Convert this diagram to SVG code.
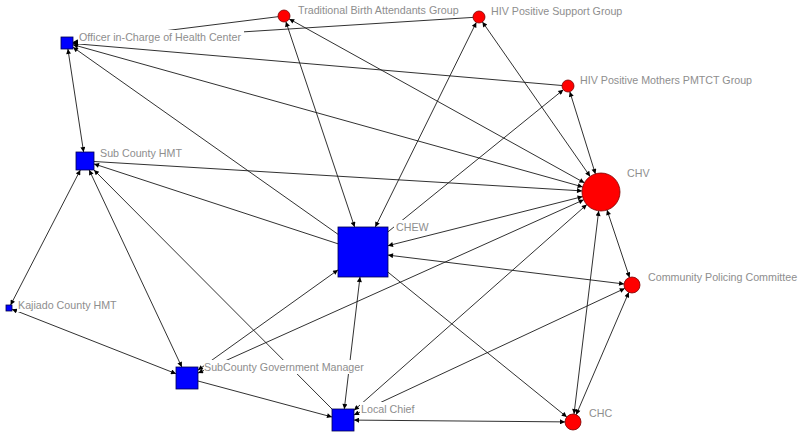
<svg xmlns="http://www.w3.org/2000/svg" width="800" height="436" viewBox="0 0 800 436">
<style>
.e{stroke:#1a1a1a;stroke-width:0.9;fill:none}
.s{fill:#0000ff;stroke:#00004d;stroke-width:0.8}
.c{fill:#ff0000;stroke:#7a0000;stroke-width:0.8}
.lb{fill:#ffffff}
.t{font-family:"Liberation Sans",Arial,sans-serif;font-size:10.7px;fill:#8e8e8e}
</style>
<defs>
<marker id="a" viewBox="0 0 10 10" refX="10" refY="5" markerUnits="userSpaceOnUse" markerWidth="7" markerHeight="5" orient="auto-start-reverse">
<path d="M0,0 L10,5 L0,10 z" fill="#000"/>
</marker>
</defs>
<rect width="800" height="436" fill="#ffffff"/>
<g id="connectors">
<line class="e" x1="67.9" y1="49" x2="83.6" y2="152" marker-start="url(#a)" marker-end="url(#a)"/>
<line class="e" x1="73" y1="42.3" x2="278" y2="16.7" marker-start="url(#a)"/>
<line class="e" x1="73" y1="42.6" x2="473" y2="17.4" marker-start="url(#a)"/>
<line class="e" x1="73" y1="43.5" x2="562" y2="85.5" marker-start="url(#a)"/>
<line class="e" x1="73" y1="44.7" x2="582.7" y2="186.9" marker-start="url(#a)" marker-end="url(#a)"/>
<line class="e" x1="73" y1="47.2" x2="338" y2="234.3" marker-start="url(#a)"/>
<line class="e" x1="285.9" y1="21.7" x2="354.6" y2="227" marker-start="url(#a)" marker-end="url(#a)"/>
<line class="e" x1="289.2" y1="18.9" x2="584.4" y2="182.8" marker-start="url(#a)" marker-end="url(#a)"/>
<line class="e" x1="476.3" y1="22.4" x2="375.3" y2="227" marker-start="url(#a)" marker-end="url(#a)"/>
<line class="e" x1="482.4" y1="21.9" x2="590.1" y2="176.4" marker-start="url(#a)" marker-end="url(#a)"/>
<line class="e" x1="569.8" y1="91.7" x2="595.4" y2="173.9" marker-start="url(#a)" marker-end="url(#a)"/>
<line class="e" x1="388" y1="231.8" x2="563.3" y2="89.8" marker-end="url(#a)"/>
<line class="e" x1="94" y1="161.5" x2="582" y2="190.9" marker-end="url(#a)"/>
<line class="e" x1="94" y1="163.9" x2="338" y2="243.8" marker-start="url(#a)"/>
<line class="e" x1="80.3" y1="170" x2="10.6" y2="305" marker-start="url(#a)" marker-end="url(#a)"/>
<line class="e" x1="89.2" y1="170" x2="181.8" y2="367" marker-start="url(#a)" marker-end="url(#a)"/>
<line class="e" x1="94" y1="170" x2="332" y2="409" marker-start="url(#a)"/>
<line class="e" x1="12" y1="309.2" x2="176" y2="373.7" marker-start="url(#a)" marker-end="url(#a)"/>
<line class="e" x1="198" y1="370.1" x2="338" y2="269.9" marker-start="url(#a)" marker-end="url(#a)"/>
<line class="e" x1="198" y1="373.1" x2="583.7" y2="199.8" marker-start="url(#a)" marker-end="url(#a)"/>
<line class="e" x1="198" y1="381" x2="332" y2="417" marker-end="url(#a)"/>
<line class="e" x1="344.3" y1="409" x2="360" y2="277" marker-start="url(#a)" marker-end="url(#a)"/>
<line class="e" x1="354" y1="410.3" x2="586.8" y2="204.6" marker-start="url(#a)" marker-end="url(#a)"/>
<line class="e" x1="354" y1="414.9" x2="624.8" y2="288.4" marker-start="url(#a)" marker-end="url(#a)"/>
<line class="e" x1="354" y1="420.1" x2="565" y2="421.9" marker-start="url(#a)" marker-end="url(#a)"/>
<line class="e" x1="388" y1="245.7" x2="582.6" y2="196.6" marker-start="url(#a)" marker-end="url(#a)"/>
<line class="e" x1="388" y1="255.1" x2="624.1" y2="284" marker-start="url(#a)" marker-end="url(#a)"/>
<line class="e" x1="388" y1="272.2" x2="566.8" y2="417" marker-end="url(#a)"/>
<line class="e" x1="607" y1="210" x2="629.5" y2="277.4" marker-start="url(#a)" marker-end="url(#a)"/>
<line class="e" x1="598.7" y1="210.9" x2="574" y2="414.1" marker-start="url(#a)" marker-end="url(#a)"/>
<line class="e" x1="628.8" y1="292.3" x2="576.2" y2="414.7" marker-start="url(#a)" marker-end="url(#a)"/>
</g>
<g id="node-oic"><rect class="s" x="61" y="37" width="12" height="12"/><rect class="lb" x="78" y="30" width="166" height="14"/><text class="t" x="79" y="41">Officer in-Charge of Health Center</text></g>
<g id="node-schmt"><rect class="s" x="76" y="152" width="18" height="18"/><rect class="lb" x="99" y="146" width="85" height="14"/><text class="t" x="100" y="157">Sub County HMT</text></g>
<g id="node-kchmt"><rect class="s" x="6" y="305" width="6" height="6"/><rect class="lb" x="17" y="298" width="100" height="14"/><text class="t" x="18" y="309">Kajiado County HMT</text></g>
<g id="node-scgm"><rect class="s" x="176" y="367" width="22" height="22"/><rect class="lb" x="204" y="360" width="163" height="14"/><text class="t" x="204" y="371">SubCounty Government Manager</text></g>
<g id="node-lc"><rect class="s" x="332" y="409" width="22" height="22"/><rect class="lb" x="360" y="402" width="54" height="14"/><text class="t" x="361" y="413">Local Chief</text></g>
<g id="node-chew"><rect class="s" x="338" y="227" width="50" height="50"/><rect class="lb" x="394" y="220" width="36" height="14"/><text class="t" x="396" y="231">CHEW</text></g>
<g id="node-tba"><circle class="c" cx="284" cy="16" r="6"/><rect class="lb" x="297" y="3" width="164" height="14"/><text class="t" x="298" y="14">Traditional Birth Attendants Group</text></g>
<g id="node-hivsg"><circle class="c" cx="479" cy="17" r="6"/><rect class="lb" x="490" y="4" width="133" height="14"/><text class="t" x="491" y="15">HIV Positive Support Group</text></g>
<g id="node-pmtct"><circle class="c" cx="568" cy="86" r="6"/><rect class="lb" x="579" y="73" width="176" height="14"/><text class="t" x="580" y="84">HIV Positive Mothers PMTCT Group</text></g>
<g id="node-chv"><circle class="c" cx="601" cy="192" r="19"/><rect class="lb" x="626" y="166" width="25" height="14"/><text class="t" x="627" y="177">CHV</text></g>
<g id="node-cpc"><circle class="c" cx="632" cy="285" r="8"/><rect class="lb" x="647" y="270" width="150" height="14"/><text class="t" x="648" y="281">Community Policing Committee</text></g>
<g id="node-chc"><circle class="c" cx="573" cy="422" r="8"/><rect class="lb" x="588" y="406" width="24" height="14"/><text class="t" x="589" y="417">CHC</text></g>
</svg>
